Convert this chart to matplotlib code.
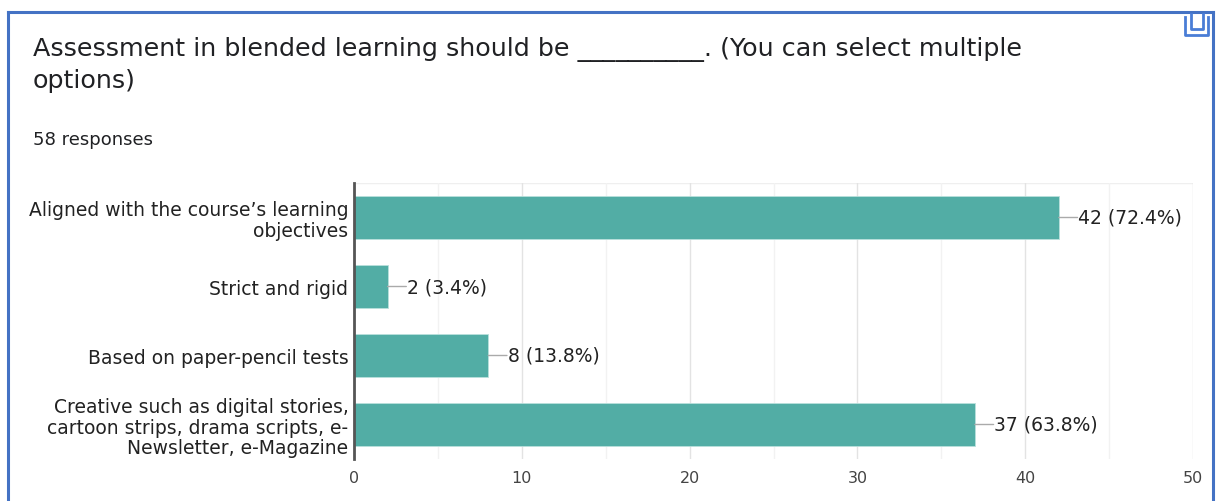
import matplotlib
matplotlib.use("Agg")
import matplotlib.pyplot as plt
from matplotlib.lines import Line2D

categories = [
    "Aligned with the course’s learning\nobjectives",
    "Strict and rigid",
    "Based on paper-pencil tests",
    "Creative such as digital stories,\ncartoon strips, drama scripts, e-\nNewsletter, e-Magazine",
]
counts = [42, 2, 8, 37]
percents = ["72.4%", "3.4%", "13.8%", "63.8%"]
xticks = [0, 10, 20, 30, 40, 50]

title_line1 = "Assessment in blended learning should be __________. (You can select multiple"
title_line2 = "options)"
subtitle = "58 responses"

W, H = 1218, 502
fig = plt.figure(figsize=(W / 100, H / 100), dpi=100)
fig.patch.set_facecolor("white")
FONT = "DejaVu Sans"

# frame around the card
border = "#4472C4"
fig.add_artist(Line2D([8 / W, 8 / W], [0, 1 - 13 / H], color=border, lw=2.2, transform=fig.transFigure))
fig.add_artist(Line2D([8 / W, 1213 / W], [1 - 13 / H, 1 - 13 / H], color=border, lw=2.2, transform=fig.transFigure))
fig.add_artist(Line2D([1213 / W, 1213 / W], [0, 1 - 13 / H], color=border, lw=2.2, transform=fig.transFigure))

# copy icon in the corner
icon = "#4A7DD6"
fig.add_artist(Line2D([1185 / W, 1185 / W, 1208 / W, 1208 / W],
                      [1 - 18 / H, 1 - 36 / H, 1 - 36 / H, 1 - 18 / H],
                      color=icon, lw=2.0, transform=fig.transFigure))
fig.add_artist(Line2D([1191 / W, 1191 / W, 1203 / W, 1203 / W],
                      [1 - 15 / H, 1 - 30 / H, 1 - 30 / H, 1 - 15 / H],
                      color=icon, lw=2.0, transform=fig.transFigure))

fig.text(33 / W, 1 - 49 / H, title_line1, fontsize=18.3, color="#202124",
         family=FONT, va="center", ha="left")
fig.text(33 / W, 1 - 81 / H, title_line2, fontsize=18.3, color="#202124",
         family=FONT, va="center", ha="left")
fig.text(33 / W, 1 - 140 / H, subtitle, fontsize=13, color="#202124",
         family=FONT, va="center", ha="left")

ax = fig.add_axes([354 / W, 1 - 460 / H, (1193 - 354) / W, (460 - 184) / H])
ypos = list(range(len(categories)))
ax.barh(ypos, counts, height=0.62, color="#52ADA5", edgecolor="#B9E0DC", linewidth=0.6, zorder=3)
ax.set_ylim(len(categories) - 0.5, -0.5)
ax.set_xlim(0, 50)

ax.set_xticks(xticks)
ax.set_xticks([5, 15, 25, 35, 45], minor=True)
ax.grid(axis="x", which="major", color="#E3E3E3", lw=1.0, zorder=0)
ax.grid(axis="x", which="minor", color="#F2F2F2", lw=1.0, zorder=0)
ax.tick_params(axis="both", which="both", length=0)
ax.tick_params(axis="x", pad=8, labelsize=11.5, labelcolor="#444444")
ax.tick_params(axis="y", pad=4, labelsize=13.5, labelcolor="#222222")
ax.set_yticks(ypos)
ax.set_yticklabels(categories, family=FONT, ha="right", linespacing=1.08)
for lbl in ax.get_xticklabels():
    lbl.set_family(FONT)

for side in ["top", "right", "bottom"]:
    ax.spines[side].set_visible(False)
ax.spines["left"].set_color("#555555")
ax.spines["left"].set_linewidth(2.0)
ax.spines["left"].set_zorder(4)
# faint top border of the plot region
ax.axhline(-0.5, color="#EFEFEF", lw=1.0, zorder=0)

# leader lines and value labels
for y, c, p in zip(ypos, counts, percents):
    ax.annotate("", xy=(c, y), xytext=(13.5, 0), textcoords="offset points",
                arrowprops=dict(arrowstyle="-", color="#AAAAAA", lw=1.0, shrinkA=0, shrinkB=0))
    ax.annotate(f"{c} ({p})", xy=(c, y), xytext=(14, 0), textcoords="offset points",
                va="center", ha="left", fontsize=13.5, color="#222222", family=FONT)

fig.savefig("out.png", dpi=100, facecolor="white")
